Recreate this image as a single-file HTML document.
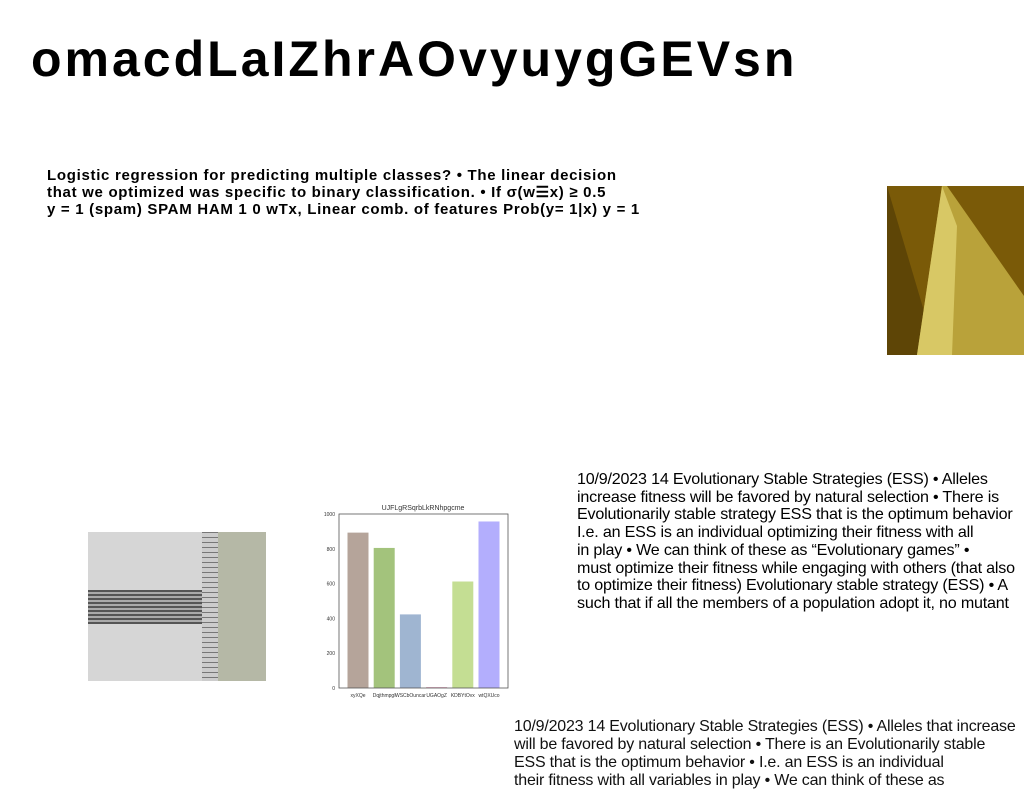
<!DOCTYPE html>
<html><head><meta charset="utf-8"><style>
body{margin:0;width:1024px;height:788px;background:#fff;position:relative;overflow:hidden;font-family:"Liberation Sans",sans-serif}
.abs{position:absolute}
h1{position:absolute;left:31px;top:30px;margin:0;font-size:50px;font-weight:900;letter-spacing:3px;color:#000}
.bold{left:47px;top:167px;font-size:15px;font-weight:bold;line-height:17px;letter-spacing:0.7px;color:#000;white-space:nowrap}
.t1{left:577px;top:471px;font-size:16.1px;line-height:17.7px;white-space:nowrap;color:#000;letter-spacing:-0.2px}
.t2{left:514px;top:718px;font-size:16px;line-height:18px;white-space:nowrap;color:#111;letter-spacing:-0.2px}
</style></head><body>
<h1>omacdLaIZhrAOvyuygGEVsn</h1>
<div class="abs bold">Logistic regression for predicting multiple classes? • The linear decision<br>that we optimized was specific to binary classification. • If σ(w☰x) ≥ 0.5<br>y = 1 (spam) SPAM HAM 1 0 wTx, Linear comb. of features Prob(y= 1|x) y = 1</div>
<div class="abs" style="left:887px;top:186px;width:137px;height:169px;background:#7a5a08;overflow:hidden">
<div style="position:absolute;left:0;top:0;width:0;height:0;border-left:50px solid #5e4506;border-top:169px solid transparent"></div>
<svg width="137" height="169" style="position:absolute;left:0;top:0"><polygon points="30,169 55,0 60,0 137,110 137,169" fill="#b9a23a"/><polygon points="30,169 55,0 70,40 65,169" fill="#d8c865"/></svg>
</div>
<div class="abs" style="left:88px;top:532px;width:178px;height:149px;background:#d6d6d6">
<div style="position:absolute;left:0;top:58px;width:120px;height:34px;background:repeating-linear-gradient(#555 0 2px,#aaa 2px 4px)"></div>
<div style="position:absolute;left:130px;top:0;width:48px;height:149px;background:#b5b8a6"></div>
<div style="position:absolute;left:114px;top:0;width:16px;height:149px;background:repeating-linear-gradient(#777 0 1px,#ccc 1px 5px)"></div>
</div>
<svg class="abs" style="left:0;top:0" width="1024" height="788">
<text x="423" y="510" font-size="7" text-anchor="middle" fill="#333">UJFLgRSqrbLkRNhpgcme</text>
<g id="g"></g>
<rect x="339" y="514" width="169" height="174" fill="none" stroke="#555" stroke-width="0.8"/>
</svg>
<div class="abs t1">10/9/2023 14 Evolutionary Stable Strategies (ESS) • Alleles<br>increase fitness will be favored by natural selection • There is<br>Evolutionarily stable strategy ESS that is the optimum behavior<br>I.e. an ESS is an individual optimizing their fitness with all<br>in play • We can think of these as “Evolutionary games” •<br>must optimize their fitness while engaging with others (that also<br>to optimize their fitness) Evolutionary stable strategy (ESS) • A<br>such that if all the members of a population adopt it, no mutant</div>
<div class="abs t2">10/9/2023 14 Evolutionary Stable Strategies (ESS) • Alleles that increase<br>will be favored by natural selection • There is an Evolutionarily stable<br>ESS that is the optimum behavior • I.e. an ESS is an individual<br>their fitness with all variables in play • We can think of these as</div>
<script>
const categories=["xyXQe","DqjthmpgI","WSCbOuncar","UGAOgZ","KDBYtOvx","wtQXUco"];
const values=[893,805,423,5,612,957];
const colors=["#b5a49a","#a3c37c","#9fb5d1","#e0a0b8","#c4de93","#b3aefd"];
const ticks=[0,200,400,600,800,1000];
const NS="http://www.w3.org/2000/svg",g=document.getElementById('g');
const y=v=>688-v*174/1000, x=i=>358+i*26.2;
ticks.forEach(t=>{
 const tx=document.createElementNS(NS,'text');
 tx.setAttribute('x',335);tx.setAttribute('y',y(t)+2);tx.setAttribute('font-size','5');tx.setAttribute('text-anchor','end');tx.setAttribute('fill','#333');tx.textContent=t;
 
 
 g.appendChild(tx);
});
categories.forEach((c,i)=>{
 const r=document.createElementNS(NS,'rect');
 r.setAttribute('x',x(i)-10.5);r.setAttribute('width',21);r.setAttribute('y',y(values[i]));r.setAttribute('height',688-y(values[i]));r.setAttribute('fill',colors[i]);
 
 
 g.appendChild(r);
 const tx=document.createElementNS(NS,'text');
 tx.setAttribute('x',x(i));tx.setAttribute('y',697);tx.setAttribute('font-size','5');tx.setAttribute('text-anchor','middle');tx.setAttribute('fill','#333');tx.textContent=c;
 
 
 g.appendChild(tx);
});
</script>
</body></html>
